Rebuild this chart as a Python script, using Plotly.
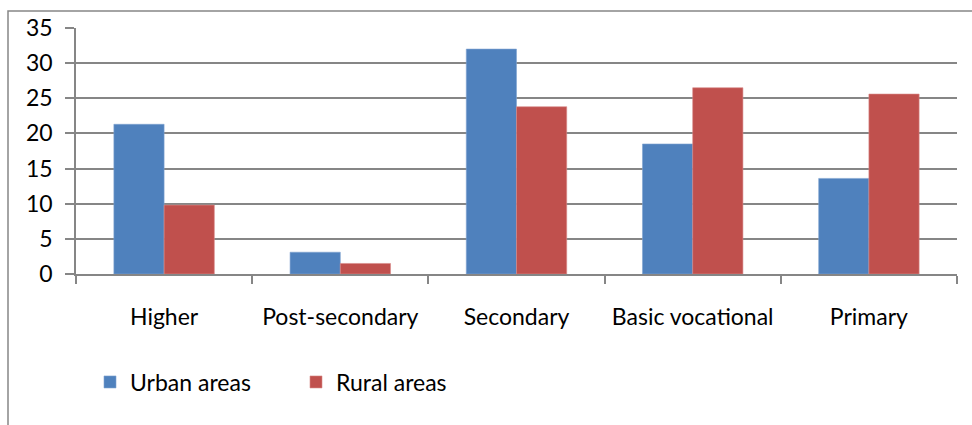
import plotly.graph_objects as go

# Education level by place of residence (%)
categories = ["Higher", "Post-secondary", "Secondary", "Basic vocational", "Primary"]
urban = [21.3, 3.1, 32.0, 18.5, 13.6]
rural = [9.8, 1.5, 23.8, 26.5, 25.6]
y_ticks = [0, 5, 10, 15, 20, 25, 30, 35]

FONT = "Lato, Carlito, Calibri, sans-serif"
GRID = "#868686"

fig = go.Figure()
fig.add_trace(go.Bar(name="Urban areas", x=categories, y=urban,
                     marker=dict(color="#4F81BD", line=dict(color="#7FA3D0", width=0.6))))
fig.add_trace(go.Bar(name="Rural areas", x=categories, y=rural,
                     marker=dict(color="#C0504D", line=dict(color="#D98A88", width=0.6))))

W, H = 972, 425
L, R, T, B = 76, 15, 28, 151
pw, ph = W - L - R, H - T - B

def px_x(x):
    return (x - L) / pw

def px_y(y):
    return (H - B - y) / ph

fig.update_layout(
    width=W, height=H,
    margin=dict(l=L, r=R, t=T, b=B, pad=0),
    paper_bgcolor="white", plot_bgcolor="white",
    barmode="group", bargap=0.43, bargroupgap=0,
    font=dict(family=FONT, size=23, color="#000000"),
    showlegend=True,
    legend=dict(orientation="h", x=px_x(90), xanchor="left",
                y=px_y(382), yanchor="middle",
                font=dict(size=23), itemwidth=30, entrywidth=161,
                traceorder="normal", bgcolor="rgba(0,0,0,0)"),
    xaxis=dict(showline=True, linecolor=GRID, linewidth=1.5,
               ticks="outside", tickson="boundaries", ticklen=8,
               tickcolor=GRID, tickwidth=1.5, ticklabelstandoff=22,
               showgrid=False),
    yaxis=dict(range=[0, 35], tickvals=y_ticks, showline=True,
               linecolor=GRID, linewidth=1.5, ticks="outside",
               ticklen=9, tickcolor=GRID, tickwidth=1.5,
               ticklabelstandoff=8,
               showgrid=True, gridcolor=GRID, gridwidth=1.5,
               zeroline=False),
    shapes=[dict(type="rect", xref="paper", yref="paper",
                 x0=px_x(8), x1=px_x(990), y0=px_y(440), y1=px_y(11),
                 line=dict(color=GRID, width=1.5), fillcolor="rgba(0,0,0,0)",
                 layer="below")],
)

fig.write_html("out.html")
